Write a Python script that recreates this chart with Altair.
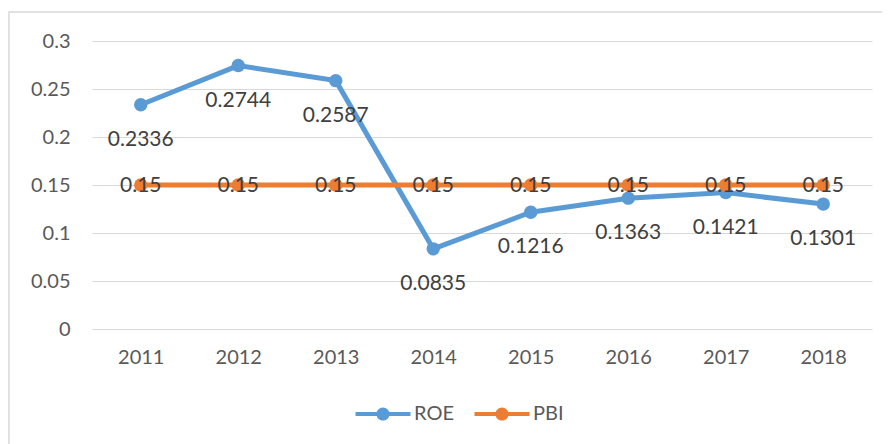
import altair as alt
import pandas as pd

years = ["2011", "2012", "2013", "2014", "2015", "2016", "2017", "2018"]
roe = [0.2336, 0.2744, 0.2587, 0.0835, 0.1216, 0.1363, 0.1421, 0.1301]
pbi = [0.15, 0.15, 0.15, 0.15, 0.15, 0.15, 0.15, 0.15]
roe_labels = ["0.2336", "0.2744", "0.2587", "0.0835", "0.1216", "0.1363", "0.1421", "0.1301"]
pbi_labels = ["0.15"] * 8
series = ["ROE", "PBI"]
colors = ["#5B9BD5", "#ED7D31"]
y_ticks = [0, 0.05, 0.1, 0.15, 0.2, 0.25, 0.3]

df = pd.DataFrame({
    "year": years * 2,
    "value": roe + pbi,
    "series": ["ROE"] * len(years) + ["PBI"] * len(years),
    "label": roe_labels + pbi_labels,
})

FONT = "Lato"
sym_path = ("M-2.5,-0.18L2.5,-0.18L2.5,0.18L-2.5,0.18Z "
            "M-0.6,0A0.6,0.6,0,1,1,0.6,0A0.6,0.6,0,1,1,-0.6,0Z")

x_enc = alt.X("year:N", title=None,
              axis=alt.Axis(labelAngle=0, ticks=False, domain=False, grid=False,
                            labelFontSize=20, labelColor="#595959", labelFont=FONT,
                            labelPadding=18))
y_enc = alt.Y("value:Q", title=None,
              scale=alt.Scale(domain=[0, 0.3], nice=False, zero=True),
              axis=alt.Axis(values=y_ticks, format="~g", ticks=False, domain=False,
                            grid=True, gridColor="#d9d9d9", gridWidth=1.2,
                            labelFontSize=20, labelColor="#595959", labelFont=FONT,
                            labelPadding=22))
color_enc = alt.Color("series:N", sort=series,
                      scale=alt.Scale(domain=series, range=colors),
                      legend=alt.Legend(orient="none", legendX=280, legendY=362,
                                        direction="horizontal", title=None,
                                        symbolType=sym_path, symbolSize=484,
                                        symbolStrokeWidth=0,
                                        labelFontSize=20, labelColor="#595959",
                                        labelFont=FONT, labelOffset=20,
                                        columnPadding=20))

frame = alt.Chart(pd.DataFrame({"f": [0]})).mark_rect(
    fill="transparent", stroke="#d9d9d9", strokeWidth=1.5, clip=False
).encode(x=alt.value(-83), x2=alt.value(900), y=alt.value(-29), y2=alt.value(500))

def series_layer(name):
    d = df[df["series"] == name]
    return alt.Chart(d).mark_line(
        strokeWidth=5,
        point=alt.OverlayMarkDef(filled=True, size=180, opacity=1),
    ).encode(x=x_enc, y=y_enc, color=color_enc)

roe_text = alt.Chart(df[df["series"] == "ROE"]).mark_text(
    dy=35, fontSize=21, font=FONT, color="#404040", baseline="middle"
).encode(x=x_enc, y=y_enc, text="label:N")

pbi_text = alt.Chart(df[df["series"] == "PBI"]).mark_text(
    dy=1, fontSize=21, font=FONT, color="#404040", baseline="middle"
).encode(x=x_enc, y=y_enc, text="label:N")

chart = alt.layer(
    frame, series_layer("ROE"), series_layer("PBI"), roe_text, pbi_text
).properties(
    width=780, height=288,
    autosize=alt.AutoSizeParams(type="none"),
    padding={"left": 84, "top": 33, "right": 10, "bottom": 115},
    background="white",
).configure_view(stroke=None)

chart.save("out.html", embed_options={"renderer": "svg", "actions": False})
